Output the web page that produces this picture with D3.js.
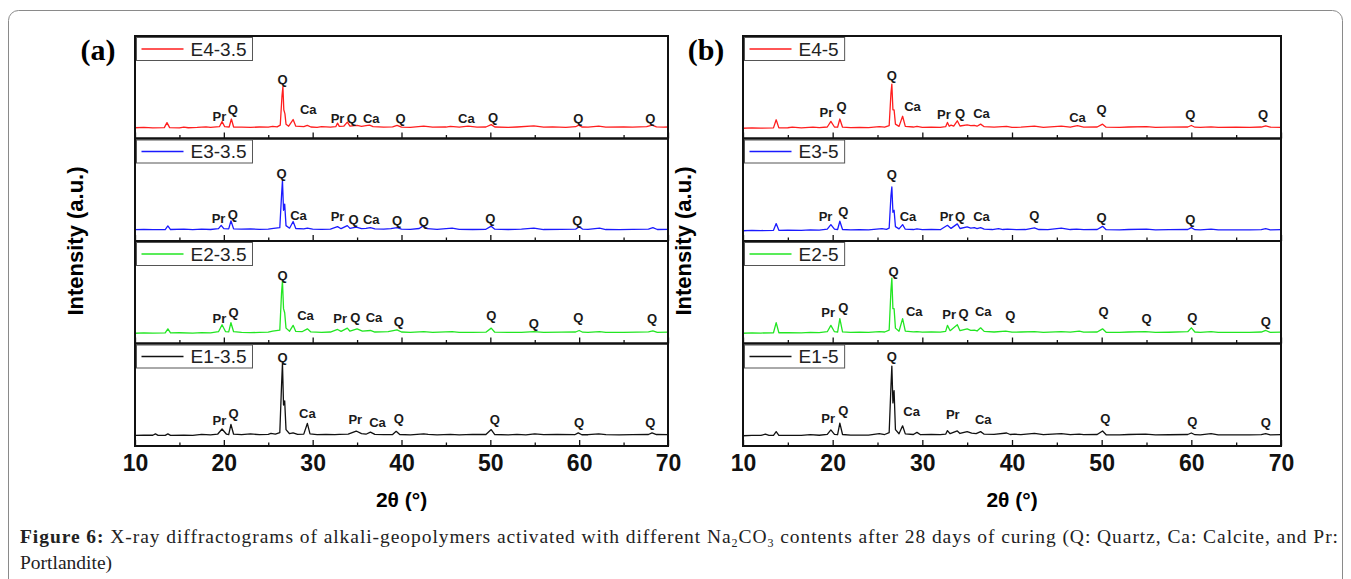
<!DOCTYPE html>
<html>
<head>
<meta charset="utf-8">
<script src="https://cdn.jsdelivr.net/npm/d3@7"></script>
<style>
  body { margin: 0; background: #fff; }
  text { font-family: "Liberation Sans", Arial, sans-serif; }
</style>
</head>
<body>
<svg id="chart" width="1351" height="579"></svg>
<script>
// x axis
const xTicks = [10, 20, 30, 40, 50, 60, 70];
const xMinor = [15, 25, 35, 45, 55, 65];

// (a) 3.5% series, [2theta, intensity]
const e4_35 = [[10,10.5],[11,10.8],[12,10.4],[13.3,10.6],[13.6,15.5],[13.9,10.6],[15,10.3],[15.5,11.2],[16,10.5],[17,10.8],[18,11.3],[18.5,10.8],[19.5,11.5],[19.8,16.5],[20.1,11.5],[20.6,11.2],[20.85,19],[21.1,11.2],[22,11],[23,10.8],[24,11.2],[25,11],[25.5,11.8],[26,11.3],[26.35,13],[26.55,42],[26.65,50.5],[26.75,28],[26.88,24],[27,14],[27.3,12],[27.8,18.5],[28.1,12],[29,11.5],[29.4,12.8],[29.8,11.2],[30.5,10.8],[31,11.5],[32,11],[32.6,11.5],[32.8,15],[33,11.8],[33.5,12],[33.9,16],[34.2,12],[35,12.8],[35.5,11.8],[36,12.5],[36.4,13],[36.8,11.5],[38,11],[39,11.3],[39.5,12.8],[40,11],[41,10.8],[42.5,12],[43.5,11],[45,11.2],[45.5,11.8],[46.5,11],[47.5,12],[48.5,11],[49.5,11.2],[50.1,13.5],[50.5,11.2],[52,10.8],[53,11.2],[54.9,12.3],[56,11],[57,11.3],[58.5,10.8],[59.6,11.5],[59.95,13],[60.3,11.2],[61,11],[62.2,12],[63,11],[65,11.3],[66,11],[67.6,11.5],[68.2,13],[68.7,11.3],[69.5,11],[70,11.2]];
const e3_35 = [[10,11],[11,11.3],[12,11],[13.4,11.2],[13.7,14.7],[14,11.2],[15.5,11.5],[16.5,11],[17.5,11.6],[18.5,11.2],[19.4,12],[19.7,15.3],[20,12],[20.55,11.8],[20.8,19.7],[21.1,11.8],[22,11.6],[23,11.8],[24,11.3],[25,11.6],[25.6,12.3],[26.3,13],[26.5,45],[26.6,59],[26.72,30],[26.85,36],[27,15],[27.4,12.5],[27.8,19],[28.1,12.2],[29,11.8],[29.4,12.5],[30,11.5],[31,11.3],[32,11.6],[32.8,14],[33.2,12],[33.9,15],[34.2,12.3],[34.9,13.5],[35.5,12],[36,12.3],[36.5,13],[37,11.8],[38,11.5],[38.8,12],[39.5,13],[40,11.5],[41,11.3],[42,12.2],[42.4,14.5],[42.9,12],[44,11.3],[45.7,12.5],[46.5,11.4],[48,11.2],[49.5,11.4],[50.1,14.5],[50.5,11.5],[52,11.2],[53.5,11.5],[54.9,12.5],[56,11.2],[58,11.4],[59.6,11.5],[60,14],[60.4,11.5],[61,11.3],[62.3,12.5],[63,11.2],[64.5,11],[66,11.3],[67.8,11.6],[68.3,13],[68.8,11.2],[70,11.4]];
const e2_35 = [[10,10],[11,10.3],[12,10.1],[13.4,10.3],[13.7,14.3],[14,10.3],[15,10.5],[16.5,10.2],[17.5,10.6],[18.5,10.4],[19.4,11.5],[19.8,18.3],[20.2,11.5],[20.55,11.3],[20.8,20.3],[21.1,11.5],[22,10.8],[23,10.6],[24,10.8],[25,11],[25.5,12],[26.3,13],[26.5,50],[26.6,61],[26.72,34],[26.85,30],[27,15],[27.4,12],[27.8,17.7],[28.1,11.8],[28.8,11.5],[29.4,14.3],[29.8,11.3],[31,10.8],[32,11.2],[32.8,13.7],[33.2,11.8],[33.9,15],[34.2,12],[35,14.3],[35.6,12],[36.5,12.7],[37,11.2],[38.5,11.5],[39.5,13.3],[40,11.2],[41,10.8],[42.5,11.5],[43.5,10.9],[45.7,11.5],[46.5,10.9],[48,10.8],[49.5,11],[50.1,15],[50.5,11],[52,10.8],[53.5,10.9],[54.9,11.5],[56,10.8],[58,11],[59.6,11.2],[60,12.7],[60.4,11],[61,10.9],[62.3,11.5],[63,10.8],[65,10.8],[66.5,11],[67.8,11.3],[68.3,12.3],[68.8,10.9],[70,11]];
const e1_35 = [[10,10.3],[11,10.5],[12,10.5],[12.3,11.8],[12.6,10.4],[13.4,10.4],[13.7,11.8],[14,10.4],[15.5,10.6],[16.5,10.4],[17.5,11.3],[18.5,10.8],[19.3,11.5],[19.8,16.6],[20.3,11.5],[20.55,11.2],[20.8,21],[21.1,11.5],[22,11],[23,11.8],[24,11],[25,11.4],[25.3,12.3],[25.8,11.5],[26.3,13],[26.5,60],[26.6,81],[26.72,40],[26.85,44],[27,16],[27.4,12],[27.8,12.8],[28.3,11.3],[29,11.6],[29.4,22],[29.7,11.8],[30.5,11],[31.5,11.2],[32.5,11],[33,11.3],[34,11.5],[34.9,14.6],[35.5,12],[36,11.5],[36.5,13.6],[37,11.3],[38,11],[39,11.2],[39.4,14.3],[39.8,11.2],[41,10.9],[42.5,11.8],[43,11.3],[44,10.9],[45.5,11.3],[46.5,10.9],[48,11.3],[49.5,11.2],[50.1,16],[50.5,11.2],[52,10.8],[53,11.3],[54,10.9],[55,11.8],[56,11],[57.5,11.2],[59.5,11],[59.9,12.8],[60.3,11],[61,11],[62.2,11.8],[63,11],[64.5,10.8],[66,11],[67.8,11.2],[68.2,12.8],[68.7,11.2],[70,11]];

// (b) 5% series
const e4_5 = [[10,10],[11,10.3],[12,10.1],[13.4,10.4],[13.7,18.3],[14,10.4],[15,10.5],[15.5,11],[16.5,10.4],[17.8,11],[18.5,10.6],[19.4,11.2],[19.8,16.7],[20.2,11.2],[20.55,11],[20.8,19],[21.1,11],[22,10.6],[23,10.8],[24,10.7],[25.2,11.5],[25.8,11],[26.3,12.5],[26.5,44],[26.6,53],[26.72,28],[26.85,28],[27,14],[27.4,11.8],[27.8,21.7],[28.1,11.8],[29,11.2],[29.4,11.8],[30,10.8],[31,11],[32,10.8],[32.6,11.5],[32.8,15.7],[33,12],[33.2,13],[33.5,12],[33.9,17.3],[34.2,12.2],[35,13.3],[35.4,12.5],[35.8,12.8],[36.1,12],[36.5,14],[36.9,11.5],[38,11],[39.4,11.8],[40,10.8],[41,11],[42.5,12],[43.5,10.9],[45.5,12],[46.5,11],[47.3,12.5],[48,11],[49.5,11.2],[50.1,14],[50.5,11],[52,10.8],[53,11.2],[55,11.5],[56,10.8],[57.5,11],[59.6,11.2],[60,12.7],[60.4,11],[61,10.8],[62.2,11.4],[63,10.8],[65,11],[66.5,10.8],[67.8,11.2],[68.3,12.3],[68.8,11],[70,10.8]];
const e3_5 = [[10,10],[11,10.4],[12,10.2],[13.4,10.4],[13.7,17],[14,10.4],[15,10.6],[16.5,10.4],[17.5,10.8],[18.5,10.6],[19.4,11.5],[19.8,16],[20.2,11.5],[20.55,11.2],[20.8,19.3],[21.1,11.2],[22,10.8],[23,11],[24,10.8],[25.5,12],[26,11.3],[26.3,12.5],[26.5,44],[26.6,52.7],[26.72,28],[26.85,30],[27,14],[27.4,11.8],[27.8,16],[28.1,11.5],[29,11.2],[29.4,11.8],[30,11],[31,11.2],[32,11],[32.8,15.3],[33.2,12.3],[33.9,16.7],[34.2,12.2],[35,13.7],[35.4,12.5],[35.8,13],[36.1,12],[36.5,13],[36.9,11.5],[37.8,11.2],[38.5,12],[39,11.2],[39.5,11.5],[40.5,11],[41.5,11.2],[42.5,12.7],[43,11.2],[44,11],[45.5,12.5],[46.5,11.2],[47.2,11.5],[48,11],[49.5,11.2],[50.1,14.3],[50.5,11],[52,10.9],[53,11.2],[55,11.5],[56,10.9],[57.5,11],[59.6,11.2],[60,13],[60.4,11],[61,10.9],[62.2,11.5],[63,10.8],[65,10.9],[66.5,10.8],[67.8,11],[68.3,12],[68.8,10.9],[70,11]];
const e2_5 = [[10,10],[11,10.3],[12,10.2],[13.4,10.5],[13.7,20.3],[14,10.5],[15,10.6],[16.5,10.3],[17.5,10.8],[18.5,10.6],[19.4,11.5],[19.8,17.7],[20.2,11.5],[20.55,11.2],[20.8,24.3],[21.1,11.3],[22,10.8],[23,11],[24,10.8],[25.2,11.5],[25.8,11.2],[26.3,13],[26.5,52],[26.6,63.7],[26.72,34],[26.85,34],[27,15],[27.4,12],[27.8,24.3],[28.1,12],[29,11.3],[29.4,11.5],[30,11],[31,11.2],[32,11],[32.6,11.8],[32.8,17.7],[33.1,12.5],[33.9,18.3],[34.2,12.5],[35,14.3],[35.4,12.8],[35.8,13],[36.1,12.2],[36.5,15.3],[36.9,11.8],[38,11.2],[39.3,12],[40,11],[41,11.2],[42.5,11.5],[43.5,10.9],[45.5,11.5],[46.5,11],[47.5,12],[48,11],[49.5,11.2],[50.1,14.3],[50.5,11],[52,10.9],[53,11.2],[54.9,11.5],[56,10.9],[57.5,11],[59.6,11.5],[60,15.3],[60.4,11.2],[61,10.9],[62.2,11.5],[63,10.8],[65,10.9],[66.5,10.8],[67.8,11.2],[68.3,12.7],[68.8,10.9],[70,11]];
const e1_5 = [[10,10],[11,10.3],[12,10.3],[12.5,11.5],[12.9,10.3],[13.4,10.4],[13.7,14],[14,10.4],[15,10.4],[16.5,10.3],[17.5,11],[18.5,10.5],[19.4,11.3],[19.8,15.7],[20.2,11.3],[20.55,11],[20.8,22.3],[21.1,11.2],[22,10.6],[23,10.6],[24,10.7],[25.2,12],[25.8,11.2],[26.3,13],[26.5,58],[26.6,78],[26.72,42],[26.85,54],[27,16],[27.4,12],[27.8,19.7],[28.1,11.8],[29,11.2],[29.4,13.3],[29.8,11],[31,11.2],[32,11],[32.6,11.5],[32.8,15],[33.1,12],[33.9,14.7],[34.2,12.2],[35,14],[35.5,12.5],[36,12],[36.5,14],[36.9,11.5],[38,11.3],[39.4,12.7],[39.8,11.2],[40.3,11.5],[41,11],[42.5,12.3],[43.5,11],[45.5,12],[46.5,11],[47.5,11.5],[48,11],[49.5,11.2],[50.1,14.7],[50.5,11],[52,10.9],[53,11.2],[54.9,11.5],[56,10.9],[57.5,11],[59.6,11.2],[60,12.7],[60.4,11],[61,10.9],[62.2,12],[63,10.9],[65,10.9],[66.5,10.8],[67.8,11.1],[68.3,12],[68.8,10.9],[70,11]];

// phase labels: [text, 2theta, intensity]
const lab_e4_35 = [["Pr",19.5,21.5],["Q",21.0,28],["Q",26.6,58],["Ca",29.5,28],["Pr",32.8,20],["Q",34.4,20],["Ca",36.6,20],["Q",39.9,19.5],["Ca",47.3,19.5],["Q",50.3,21],["Q",59.9,19.5],["Q",68.0,19.5]];
const lab_e3_35 = [["Pr",19.4,22.3],["Q",21.0,25.7],["Q",26.5,66.3],["Ca",28.4,24.7],["Pr",32.8,23.7],["Q",34.6,21],["Ca",36.6,21],["Q",39.5,19.7],["Q",42.5,19],["Q",50.0,22.3],["Q",59.8,19.7]];
const lab_e2_35 = [["Pr",19.5,25],["Q",21.1,30],["Q",26.6,66.3],["Ca",29.2,27.7],["Pr",33.1,25],["Q",34.8,25.7],["Ca",36.9,25.7],["Q",39.7,21.7],["Q",50.1,27.7],["Q",54.9,19.3],["Q",59.9,26],["Q",68.2,24.3]];
const lab_e1_35 = [["Pr",19.5,25.3],["Q",21.1,31.6],["Q",26.6,86.6],["Ca",29.4,31.6],["Pr",34.8,26],["Ca",37.3,23.3],["Q",39.7,27.3],["Q",50.5,26],["Q",60.0,23.3],["Q",68.0,23.3]];
const lab_e4_5 = [["Pr",19.3,25.7],["Q",21.0,31],["Q",26.6,61.7],["Ca",28.9,31.7],["Pr",32.4,23.3],["Q",34.2,25],["Ca",36.6,25],["Ca",47.3,21],["Q",50.0,28.3],["Q",59.9,23.3],["Q",68.0,23.3]];
const lab_e3_5 = [["Pr",19.2,23.7],["Q",21.2,29.3],["Q",26.6,64.7],["Ca",28.4,23.7],["Pr",32.7,23.7],["Q",34.2,23.7],["Ca",36.6,23.7],["Q",42.5,24.7],["Q",50.0,22.7],["Q",59.9,21.3]];
const lab_e2_5 = [["Pr",19.5,30],["Q",21.2,35],["Q",26.8,70.3],["Ca",29.1,31],["Pr",33.0,28.7],["Q",34.6,29.3],["Ca",36.8,31.7],["Q",39.8,27.7],["Q",50.2,31.7],["Q",55.0,24.3],["Q",60.1,26],["Q",68.3,21.7]];
const lab_e1_5 = [["Pr",19.5,27.3],["Q",21.2,35],["Q",26.6,87.3],["Ca",28.8,34],["Pr",33.4,30.7],["Ca",36.8,25.7],["Q",50.4,27.3],["Q",60.1,24],["Q",68.3,23]];

const namesA = ["E4-3.5", "E3-3.5", "E2-3.5", "E1-3.5"];
const namesB = ["E4-5", "E3-5", "E2-5", "E1-5"];
const colors = ["#ff1e1e", "#1a1aff", "#22e622", "#111111"];

const svg = d3.select('#chart');

// outer frame of the figure
svg.append('rect')
  .attr('x', 8.5).attr('y', 10.5)
  .attr('width', 1334).attr('height', 620)
  .attr('rx', 10)
  .attr('fill', 'none')
  .attr('stroke', '#8a8a8a')
  .attr('stroke-width', 1);

function drawPanel(left, right, letter, names, seriesPts, seriesLabels) {
  const top = 36;
  const ph = 102.5;
  const g = svg.append('g');
  const x = d3.scaleLinear().domain([10, 70]).range([left, right]);

  names.forEach((name, i) => {
    const y0 = top + i * ph;
    const y1 = y0 + ph;
    const y = d3.scaleLinear().domain([0, 100]).range([y1, y0]);

    const line = d3.line().x((d) => x(d[0])).y((d) => y(d[1]));
    g.append('path')
      .datum(seriesPts[i])
      .attr('d', line)
      .attr('fill', 'none')
      .attr('stroke', colors[i])
      .attr('stroke-width', 1.3)
      .attr('stroke-linejoin', 'round');

    // phase labels
    g.selectAll(null)
      .data(seriesLabels[i])
      .enter()
      .append('text')
      .attr('x', (d) => x(d[1]))
      .attr('y', (d) => y(d[2]))
      .attr('dy', '0.36em')
      .attr('text-anchor', 'middle')
      .style('font-size', '13px')
      .style('font-weight', 'bold')
      .attr('fill', '#1a1a1a')
      .text((d) => d[0]);

    // inward ticks on the bottom of each layer
    const last = i === names.length - 1;
    const major = d3.axisBottom(x).tickValues(xTicks).tickSizeInner(-6).tickSizeOuter(0).tickPadding(9)
      .tickFormat(last ? d3.format('d') : '');
    const ax = g.append('g').attr('transform', 'translate(0,' + y1 + ')').call(major);
    ax.select('.domain').remove();
    ax.selectAll('line').attr('stroke', '#111').attr('stroke-width', 1.3);
    ax.selectAll('text')
      .style('font-size', '23px')
      .style('font-weight', 'bold')
      .attr('fill', '#111');

    const minor = d3.axisBottom(x).tickValues(xMinor).tickSizeInner(-3.5).tickSizeOuter(0).tickFormat('');
    const axm = g.append('g').attr('transform', 'translate(0,' + y1 + ')').call(minor);
    axm.select('.domain').remove();
    axm.selectAll('line').attr('stroke', '#111').attr('stroke-width', 1.3);

    // layer frame
    g.append('rect')
      .attr('x', left).attr('y', y0)
      .attr('width', right - left).attr('height', ph)
      .attr('fill', 'none')
      .attr('stroke', '#111')
      .attr('stroke-width', 2);

    // legend
    const lg = g.append('g').attr('transform', 'translate(' + (left + 1.5) + ',' + (y0 + 1.5) + ')');
    const lt = lg.append('text')
      .attr('x', 54).attr('y', 11.5).attr('dy', '0.36em')
      .style('font-size', '19px')
      .attr('fill', '#222')
      .text(name);
    const tw = lt.node().getComputedTextLength();
    lg.insert('rect', 'text')
      .attr('width', 54 + tw + 6).attr('height', 23)
      .attr('fill', '#fff')
      .attr('stroke', '#555')
      .attr('stroke-width', 1);
    lg.append('line')
      .attr('x1', 5).attr('x2', 47)
      .attr('y1', 11.5).attr('y2', 11.5)
      .attr('stroke', colors[i])
      .attr('stroke-width', 1.5);
  });

  const bottom = top + names.length * ph;

  // axis titles
  svg.append('text')
    .attr('x', (left + right) / 2).attr('y', 507)
    .attr('text-anchor', 'middle')
    .style('font-size', '21px')
    .style('font-weight', 'bold')
    .text('2θ (°)');

  svg.append('text')
    .attr('transform', 'translate(' + (left - 60) + ',' + (top + bottom) / 2 + ') rotate(-90)')
    .attr('text-anchor', 'middle')
    .attr('dy', '0.36em')
    .style('font-size', '22px')
    .style('font-weight', 'bold')
    .text('Intensity (a.u.)');

  svg.append('text')
    .attr('x', left - 37).attr('y', 60)
    .attr('text-anchor', 'middle')
    .style('font-family', '"Liberation Serif", "Times New Roman", serif')
    .style('font-size', '30px')
    .style('font-weight', 'bold')
    .text('(' + letter + ')');
}

drawPanel(135, 668, 'a', namesA, [e4_35, e3_35, e2_35, e1_35], [lab_e4_35, lab_e3_35, lab_e2_35, lab_e1_35]);
drawPanel(743, 1281, 'b', namesB, [e4_5, e3_5, e2_5, e1_5], [lab_e4_5, lab_e3_5, lab_e2_5, lab_e1_5]);

// caption
const serif = '"Liberation Serif", "Times New Roman", serif';
const cap1 = svg.append('text')
  .attr('x', 20).attr('y', 543)
  .attr('textLength', 1318)
  .attr('lengthAdjust', 'spacing')
  .style('font-family', serif)
  .style('font-size', '19.5px')
  .attr('fill', '#222');
cap1.append('tspan').style('font-weight', 'bold').text('Figure 6:');
cap1.append('tspan').text(' X-ray diffractograms of alkali-geopolymers activated with different Na');
cap1.append('tspan').attr('dy', 4).style('font-size', '12px').text('2');
cap1.append('tspan').attr('dy', -4).text('CO');
cap1.append('tspan').attr('dy', 4).style('font-size', '12px').text('3');
cap1.append('tspan').attr('dy', -4).text(' contents after 28 days of curing (Q: Quartz, Ca: Calcite, and Pr:');

svg.append('text')
  .attr('x', 20).attr('y', 569)
  .style('font-family', serif)
  .style('font-size', '19.5px')
  .attr('fill', '#222')
  .text('Portlandite)');
</script>
</body>
</html>
